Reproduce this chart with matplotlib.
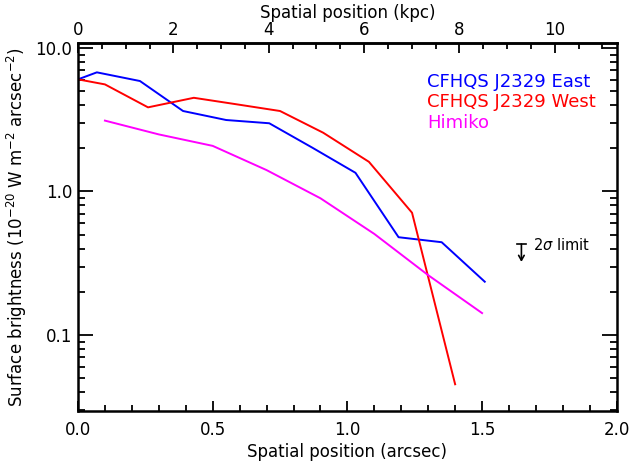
import matplotlib
matplotlib.use("Agg")
import matplotlib.pyplot as plt
from matplotlib.ticker import FixedLocator, MultipleLocator, FuncFormatter, NullFormatter, LogLocator
import numpy as np

# Data (arcsec, surface brightness in 1e-20 W m^-2 arcsec^-2)
east_x = [0.0, 0.07, 0.23, 0.39, 0.55, 0.71, 0.87, 1.03, 1.19, 1.35, 1.51]
east_y = [6.05, 6.77, 5.89, 3.64, 3.15, 2.99, 2.02, 1.35, 0.48, 0.443, 0.235]

west_x = [0.0, 0.10, 0.26, 0.43, 0.59, 0.75, 0.91, 1.08, 1.24, 1.40]
west_y = [6.05, 5.58, 3.86, 4.50, 4.05, 3.64, 2.57, 1.61, 0.711, 0.0453]

himiko_x = [0.1, 0.3, 0.5, 0.7, 0.9, 1.1, 1.3, 1.5]
himiko_y = [3.12, 2.50, 2.08, 1.41, 0.897, 0.506, 0.261, 0.142]

series_names = ["CFHQS J2329 East", "CFHQS J2329 West", "Himiko"]
series_colors = ["#0000ff", "#ff0000", "#ff00ff"]

kpc_ticks = [0, 2, 4, 6, 8, 10]
KPC_PER_ARCSEC = 5.65

plt.rcParams['font.family'] = ['DejaVu Sans']
plt.rcParams['xtick.direction'] = 'in'
plt.rcParams['ytick.direction'] = 'in'
fig = plt.figure(figsize=(6.3, 4.62), dpi=100)
ax = fig.add_axes([0.1238, 0.1104, 0.979 - 0.1238, 0.907 - 0.1104])

for xs, ys, c in zip([east_x, west_x, himiko_x], [east_y, west_y, himiko_y], series_colors):
    ax.plot(xs, ys, color=c, lw=1.4)

ax.set_yscale('log')
ax.set_xlim(0, 2.0)
ax.set_ylim(0.0295, 10.85)

ax.xaxis.set_major_locator(MultipleLocator(0.5))
ax.xaxis.set_minor_locator(MultipleLocator(0.1))
ax.xaxis.set_major_formatter(FuncFormatter(lambda v, p: f"{v:.1f}"))
ax.yaxis.set_major_locator(FixedLocator([0.1, 1.0, 10.0]))
ax.yaxis.set_minor_locator(LogLocator(base=10, subs=np.arange(2, 10)))
ax.yaxis.set_major_formatter(FuncFormatter(lambda v, p: f"{v:.1f}"))
ax.yaxis.set_minor_formatter(NullFormatter())

ax.tick_params(axis='both', which='both', direction='in', labelsize=12, color='black')
ax.tick_params(axis='x', which='major', length=7, width=1.3, top=False, pad=7)
ax.tick_params(axis='x', which='minor', length=4, width=1.3, top=False)
ax.tick_params(axis='y', which='major', length=11, width=1.3, right=True, pad=4)
ax.tick_params(axis='y', which='minor', length=5, width=1.3, right=True)
for s in ax.spines.values():
    s.set_linewidth(1.8)

secax = ax.secondary_xaxis('top', functions=(lambda x: x * KPC_PER_ARCSEC, lambda k: k / KPC_PER_ARCSEC))
secax.xaxis.set_major_locator(FixedLocator(kpc_ticks))
secax.xaxis.set_minor_locator(FixedLocator(np.arange(0, 11.5, 0.5)))
secax.xaxis.set_major_formatter(FuncFormatter(lambda v, p: f"{v:.0f}"))
secax.tick_params(axis='x', which='major', direction='in', length=7, width=1.3, labelsize=12, pad=3)
secax.tick_params(axis='x', which='minor', direction='in', length=4, width=1.3)
secax.spines['top'].set_linewidth(1.8)
secax.set_xlabel("Spatial position (kpc)", fontsize=12, labelpad=2)

ax.set_xlabel("Spatial position (arcsec)", fontsize=12, labelpad=3)
ax.set_ylabel(r"Surface brightness (10$^{-20}$ W m$^{-2}$ arcsec$^{-2}$)", fontsize=12, labelpad=5)

# legend as coloured text
leg_y = [0.894, 0.840, 0.783]
for name, c, yy in zip(series_names, series_colors, leg_y):
    ax.text(0.648, yy, name, color=c, fontsize=13, transform=ax.transAxes, va='center', ha='left')

# 2 sigma limit marker
ax.annotate("", xy=(1.646, 0.323), xytext=(1.646, 0.43),
            arrowprops=dict(arrowstyle="->,head_length=0.35,head_width=0.2",
                            color='black', lw=1.2, shrinkA=0, shrinkB=0))
ax.plot([1.628, 1.664], [0.43, 0.43], color='black', lw=1.2)
ax.text(1.69, 0.425, r"2$\sigma$ limit", fontsize=10.5, va='center', ha='left')

fig.savefig("out.png", dpi=100)
